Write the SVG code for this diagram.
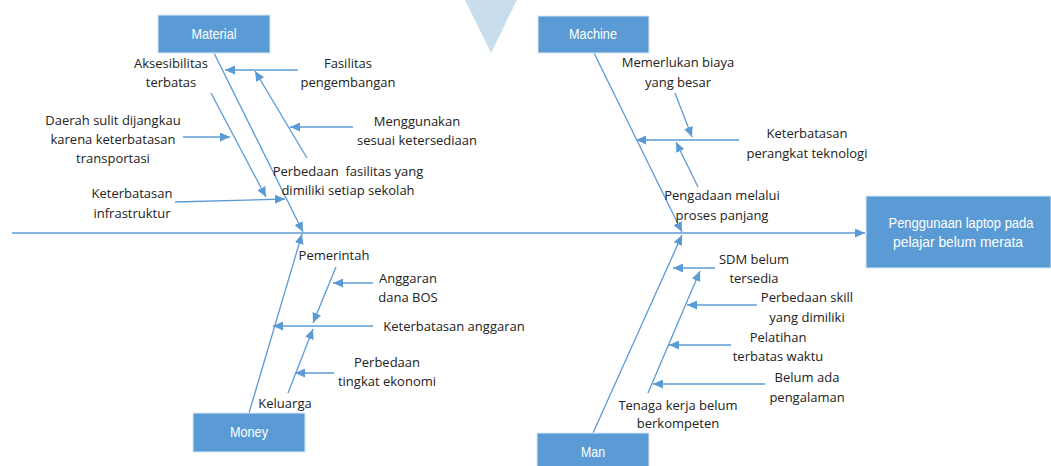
<svg xmlns="http://www.w3.org/2000/svg" width="1051" height="466" viewBox="0 0 1051 466">
<defs>
<marker id="ah" markerUnits="userSpaceOnUse" markerWidth="10" markerHeight="9" refX="10" refY="4.5" orient="auto">
<path d="M0,0 L10,4.5 L0,9 z" fill="#5b9bd5"/>
</marker>
<style>
.ln{stroke:#5b9bd5;stroke-width:1.3;fill:none;marker-end:url(#ah)}
.box{fill:#5b9bd5;stroke:#dce8f5;stroke-width:1}
.bt{font-family:"Liberation Sans",Arial,sans-serif;font-size:15px;fill:#ffffff;text-anchor:middle}
.et{font-family:"Liberation Sans",Arial,sans-serif;font-size:14px;fill:#ffffff;text-anchor:middle}
.t{font-family:"Open Sans","Noto Sans",sans-serif;font-size:13px;fill:#222222;text-anchor:middle}
</style>
</defs>
<rect width="1051" height="466" fill="#ffffff"/>
<polygon points="465,0 517,0 491,53" fill="#c9deec"/>

<g id="connectors">
<path class="ln" d="M12,233 L865,233"/>
<path class="ln" d="M214,53 L303,232"/>
<path class="ln" d="M211,93 L266,197"/>
<path class="ln" d="M298,70 L225,70"/>
<path class="ln" d="M307,158 L255,71"/>
<path class="ln" d="M353,127 L290,127"/>
<path class="ln" d="M183,137 L230,137"/>
<path class="ln" d="M175,202 L285,199"/>
<path class="ln" d="M594,53 L682,232"/>
<path class="ln" d="M675,93 L692,137"/>
<path class="ln" d="M739,140 L636,140"/>
<path class="ln" d="M698,187 L676,142"/>
<path class="ln" d="M249,413 L302,234"/>
<path class="ln" d="M336,267 L313,323"/>
<path class="ln" d="M373,283 L333,283"/>
<path class="ln" d="M373,326 L273,326"/>
<path class="ln" d="M288,393 L313,329"/>
<path class="ln" d="M334,373 L295,373"/>
<path class="ln" d="M593,433 L682,235"/>
<path class="ln" d="M715,268 L673,268"/>
<path class="ln" d="M648,393 L700,271"/>
<path class="ln" d="M757,305 L687,305"/>
<path class="ln" d="M731,345 L669,345"/>
<path class="ln" d="M765,384 L653,384"/>
</g>

<g id="effect">
<rect class="box" x="866" y="196" width="185" height="72"/>
<text class="et" x="961" y="228" textLength="145" lengthAdjust="spacingAndGlyphs">Penggunaan laptop pada</text>
<text class="et" x="958" y="247" textLength="130" lengthAdjust="spacingAndGlyphs">pelajar belum merata</text>
</g>
<g id="material">
<rect class="box" x="158" y="15" width="112" height="38"/>
<text class="bt" x="214" y="39" textLength="45" lengthAdjust="spacingAndGlyphs">Material</text>
</g>
<g id="machine">
<rect class="box" x="538" y="16" width="111" height="37"/>
<text class="bt" x="593" y="39" textLength="48" lengthAdjust="spacingAndGlyphs">Machine</text>
</g>
<g id="money">
<rect class="box" x="193" y="413" width="112" height="39"/>
<text class="bt" x="249" y="437" textLength="38" lengthAdjust="spacingAndGlyphs">Money</text>
</g>
<g id="man">
<rect class="box" x="537" y="433" width="112" height="36"/>
<text class="bt" x="593" y="457" textLength="24" lengthAdjust="spacingAndGlyphs">Man</text>
</g>

<g id="aksesibilitas"><text class="t" x="171" y="68">Aksesibilitas</text><text class="t" x="171" y="87">terbatas</text></g>
<g id="fasilitas"><text class="t" x="348" y="68">Fasilitas</text><text class="t" x="348" y="87">pengembangan</text></g>
<g id="menggunakan"><text class="t" x="417" y="126">Menggunakan</text><text class="t" x="417" y="145">sesuai ketersediaan</text></g>
<g id="daerah"><text class="t" x="113" y="125">Daerah sulit dijangkau</text><text class="t" x="113" y="144">karena keterbatasan</text><text class="t" x="113" y="163">transportasi</text></g>
<g id="perbedaan-fasilitas"><text class="t" x="348" y="176" xml:space="preserve">Perbedaan  fasilitas yang</text><text class="t" x="348" y="195">dimiliki setiap sekolah</text></g>
<g id="infrastruktur"><text class="t" x="132" y="198">Keterbatasan</text><text class="t" x="132" y="218">infrastruktur</text></g>

<g id="memerlukan"><text class="t" x="678" y="67">Memerlukan biaya</text><text class="t" x="678" y="87">yang besar</text></g>
<g id="perangkat"><text class="t" x="807" y="138">Keterbatasan</text><text class="t" x="807" y="158">perangkat teknologi</text></g>
<g id="pengadaan"><text class="t" x="722" y="200">Pengadaan melalui</text><text class="t" x="722" y="220">proses panjang</text></g>

<g id="pemerintah"><text class="t" x="334" y="260">Pemerintah</text></g>
<g id="anggaran-bos"><text class="t" x="408" y="283">Anggaran</text><text class="t" x="408" y="302">dana BOS</text></g>
<g id="keterbatasan-anggaran"><text class="t" x="454" y="331">Keterbatasan anggaran</text></g>
<g id="tingkat-ekonomi"><text class="t" x="387" y="367">Perbedaan</text><text class="t" x="387" y="386">tingkat ekonomi</text></g>
<g id="keluarga"><text class="t" x="285" y="408">Keluarga</text></g>

<g id="sdm"><text class="t" x="754" y="264">SDM belum</text><text class="t" x="754" y="283">tersedia</text></g>
<g id="skill"><text class="t" x="807" y="302">Perbedaan skill</text><text class="t" x="807" y="322">yang dimiliki</text></g>
<g id="pelatihan"><text class="t" x="778" y="342">Pelatihan</text><text class="t" x="778" y="361">terbatas waktu</text></g>
<g id="belum-ada"><text class="t" x="807" y="382">Belum ada</text><text class="t" x="807" y="402">pengalaman</text></g>
<g id="tenaga"><text class="t" x="678" y="410">Tenaga kerja belum</text><text class="t" x="678" y="428">berkompeten</text></g>
</svg>
